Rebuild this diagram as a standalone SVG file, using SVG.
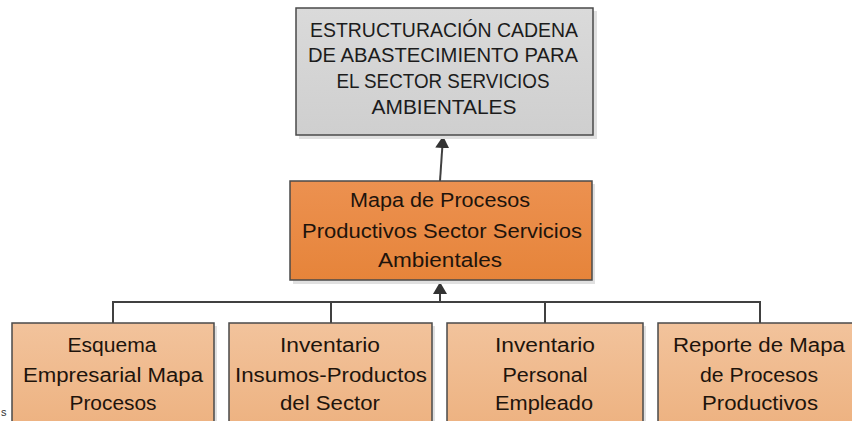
<svg xmlns="http://www.w3.org/2000/svg" width="852" height="421" viewBox="0 0 852 421">
<defs>
<linearGradient id="gGray" x1="0" y1="0" x2="0" y2="1"><stop offset="0" stop-color="#dadada"/><stop offset="1" stop-color="#cfcfcf"/></linearGradient>
<linearGradient id="gOr" x1="0" y1="0" x2="0" y2="1"><stop offset="0" stop-color="#ec9150"/><stop offset="1" stop-color="#e6843a"/></linearGradient>
<linearGradient id="gLt" x1="0" y1="0" x2="0" y2="1"><stop offset="0" stop-color="#f2c39c"/><stop offset="1" stop-color="#edb17f"/></linearGradient>
<marker id="ah" viewBox="0 0 12 14" refX="11" refY="7" markerWidth="12" markerHeight="14" markerUnits="userSpaceOnUse" orient="auto"><path d="M0,0 L12,7 L0,14 Z" fill="#333"/></marker>
</defs>
<style>
.sh{fill:#e0e0e0}
.bx{stroke:#4a4a4a;stroke-width:1.5}
.t{font-family:"Liberation Sans",Arial,sans-serif;font-size:20px;fill:#1e140c;text-anchor:middle}
.tt{font-family:"Liberation Sans",Arial,sans-serif;font-size:20px;fill:#1c1c1c;text-anchor:middle}
.c{fill:none;stroke:#404040;stroke-width:2}
</style>
<rect width="852" height="421" fill="#ffffff"/>
<g id="connectors">
<path class="c" d="M113,323 V302 H760 V323 M331,302 V323 M545,302 V323"/>
<path class="c" d="M440,302 V283" marker-end="url(#ah)"/>
<path class="c" d="M440,181 L443,137" marker-end="url(#ah)"/>
</g>
<g id="top">
<rect class="sh" x="299" y="11" width="298" height="128"/>
<rect class="bx" x="296" y="8" width="297" height="127" fill="url(#gGray)"/>
<text class="tt" x="444" y="37" textLength="268" lengthAdjust="spacingAndGlyphs">ESTRUCTURACIÓN CADENA</text>
<text class="tt" x="443" y="62" textLength="270" lengthAdjust="spacingAndGlyphs">DE ABASTECIMIENTO PARA</text>
<text class="tt" x="443" y="88" textLength="213" lengthAdjust="spacingAndGlyphs">EL SECTOR SERVICIOS</text>
<text class="tt" x="444" y="114" textLength="145" lengthAdjust="spacingAndGlyphs">AMBIENTALES</text>
</g>
<g id="mapa">
<rect class="sh" x="293" y="184" width="302" height="100"/>
<rect class="bx" x="290" y="181" width="302" height="99" fill="url(#gOr)"/>
<text class="t" x="440" y="207" textLength="180" lengthAdjust="spacingAndGlyphs">Mapa de Procesos</text>
<text class="t" x="442" y="238" textLength="280" lengthAdjust="spacingAndGlyphs">Productivos Sector Servicios</text>
<text class="t" x="440" y="267" textLength="124" lengthAdjust="spacingAndGlyphs">Ambientales</text>
</g>
<g id="esquema">
<rect class="sh" x="15" y="326" width="202" height="100"/>
<rect class="bx" x="12" y="323" width="202" height="110" fill="url(#gLt)"/>
<text class="t" x="112" y="352" textLength="89" lengthAdjust="spacingAndGlyphs">Esquema</text>
<text class="t" x="113" y="382" textLength="180" lengthAdjust="spacingAndGlyphs">Empresarial Mapa</text>
<text class="t" x="113" y="410" textLength="87" lengthAdjust="spacingAndGlyphs">Procesos</text>
</g>
<g id="insumos">
<rect class="sh" x="232" y="326" width="203" height="100"/>
<rect class="bx" x="229" y="323" width="203" height="110" fill="url(#gLt)"/>
<text class="t" x="330" y="352" textLength="100" lengthAdjust="spacingAndGlyphs">Inventario</text>
<text class="t" x="331" y="382" textLength="192" lengthAdjust="spacingAndGlyphs">Insumos-Productos</text>
<text class="t" x="330" y="410" textLength="100" lengthAdjust="spacingAndGlyphs">del Sector</text>
</g>
<g id="personal">
<rect class="sh" x="450" y="326" width="196" height="100"/>
<rect class="bx" x="447" y="323" width="196" height="110" fill="url(#gLt)"/>
<text class="t" x="545" y="352" textLength="100" lengthAdjust="spacingAndGlyphs">Inventario</text>
<text class="t" x="545" y="382" textLength="85" lengthAdjust="spacingAndGlyphs">Personal</text>
<text class="t" x="544" y="410" textLength="98" lengthAdjust="spacingAndGlyphs">Empleado</text>
</g>
<g id="reporte">
<rect class="bx" x="658" y="323" width="210" height="110" fill="url(#gLt)"/>
<text class="t" x="759" y="352" textLength="172" lengthAdjust="spacingAndGlyphs">Reporte de Mapa</text>
<text class="t" x="759" y="382" textLength="118" lengthAdjust="spacingAndGlyphs">de Procesos</text>
<text class="t" x="760" y="410" textLength="116" lengthAdjust="spacingAndGlyphs">Productivos</text>
</g>
<text x="1" y="416" font-family="Liberation Sans, Arial, sans-serif" font-size="11" fill="#333">s</text>
</svg>
